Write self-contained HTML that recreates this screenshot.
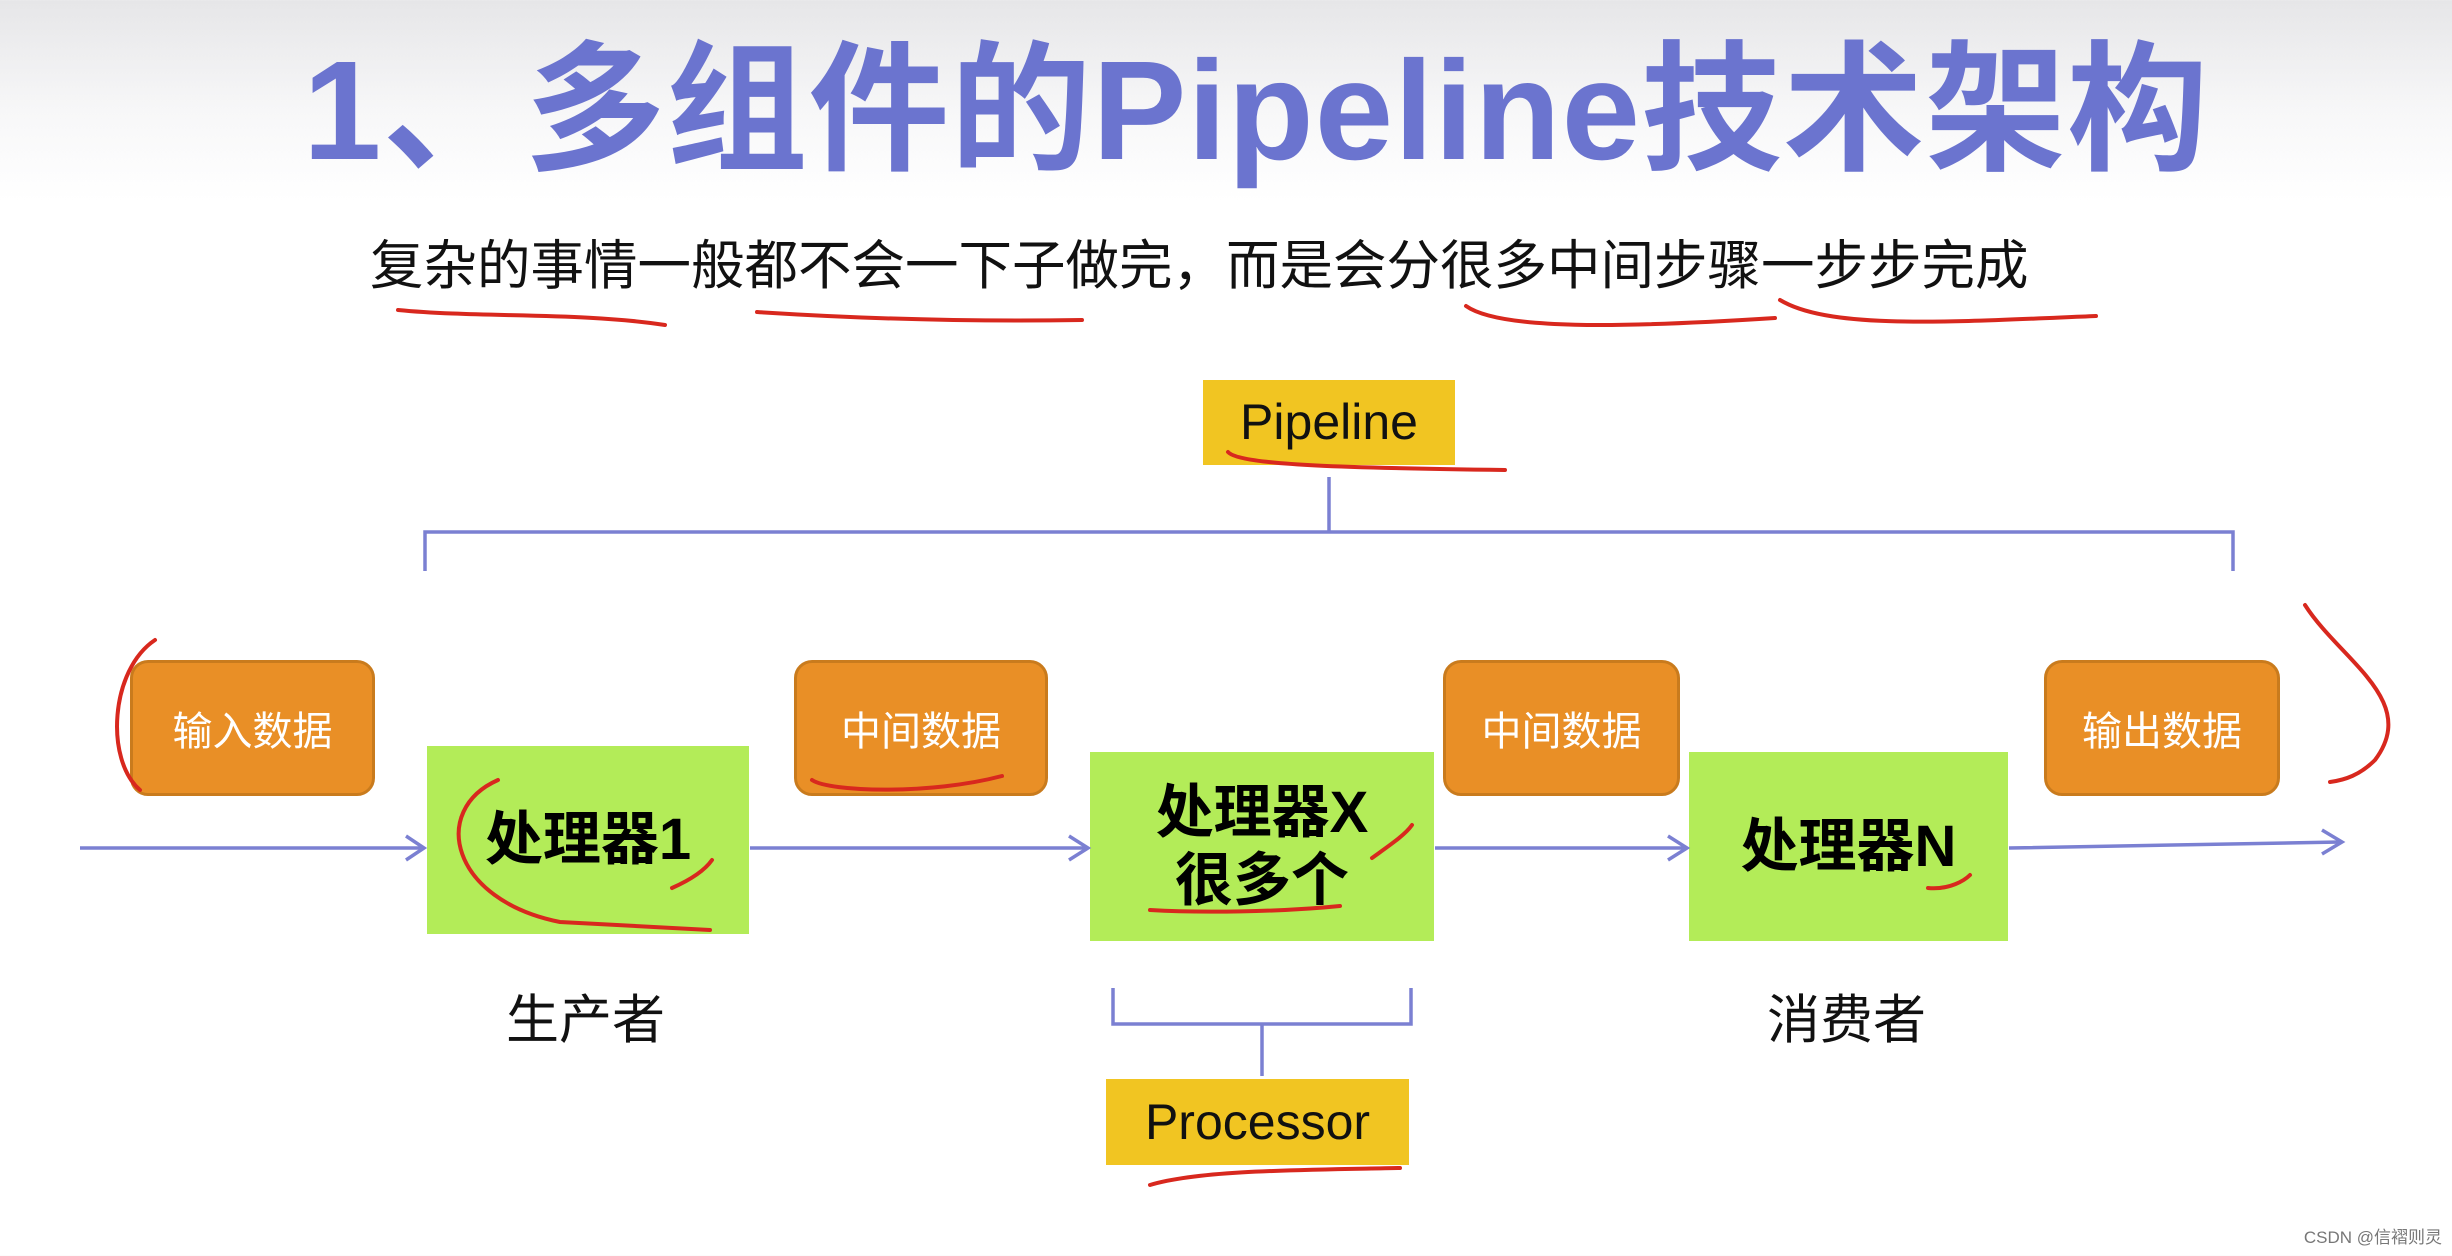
<!DOCTYPE html>
<html><head><meta charset="utf-8"><style>
html,body{margin:0;padding:0}
body{width:2452px;height:1256px;position:relative;overflow:hidden;background:linear-gradient(#e6e6e8 0px,#f7f7f8 110px,#fff 200px,#fff 100%);font-family:"Liberation Sans","Noto Sans CJK SC",sans-serif}
.a{position:absolute}
.t{left:30px;width:2452px;top:30px;text-align:center;font-size:141px;font-weight:bold;color:#6b74cf;line-height:160px;letter-spacing:1px}
.sub{left:370px;top:232px;font-size:53.5px;color:#111;white-space:nowrap;line-height:70px}
.y{background:#f1c522;color:#111;font-size:50px;text-align:center}
.o{background:#e98f26;border:3px solid #c97b1d;border-radius:18px;color:#fff;font-size:40px;display:flex;align-items:center;justify-content:center;box-sizing:border-box}
.g{background:#b3ec58;color:#000;font-weight:bold;font-size:58px;display:flex;align-items:center;justify-content:center;text-align:center;line-height:68px}
.l{font-size:53px;color:#111}
</style></head><body>
<div class="a t">1、多组件的Pipeline技术架构</div>
<div class="a sub">复杂的事情一般都不会一下子做完，而是会分很多中间步骤一步步完成</div>
<div class="a y" style="left:1203px;top:380px;width:252px;height:85px;line-height:85px">Pipeline</div>
<div class="a y" style="left:1106px;top:1079px;width:303px;height:86px;line-height:86px">Processor</div>
<div class="a o" style="left:130px;top:660px;width:245px;height:136px">输入数据</div>
<div class="a o" style="left:794px;top:660px;width:254px;height:136px">中间数据</div>
<div class="a o" style="left:1443px;top:660px;width:237px;height:136px">中间数据</div>
<div class="a o" style="left:2044px;top:660px;width:236px;height:136px">输出数据</div>
<div class="a g" style="left:427px;top:746px;width:322px;height:188px">处理器1</div>
<div class="a g" style="left:1090px;top:752px;width:344px;height:189px">处理器X<br>很多个</div>
<div class="a g" style="left:1689px;top:752px;width:319px;height:189px">处理器N</div>
<div class="a l" style="left:506px;top:978px">生产者</div>
<div class="a l" style="left:1767px;top:978px">消费者</div>
<div class="a" style="right:10px;bottom:8px;font-size:17px;color:#777">CSDN @信褶则灵</div>
<svg class="a" style="left:0;top:0" width="2452" height="1256">
<g stroke="#7b80d2" stroke-width="3.5" fill="none">
<path d="M425 571 V532 H1329 V477 M1329 532 H2233 V571"/>
<path d="M1113 988 V1024 H1411 V988 M1262 1024 V1076"/>
<path d="M80 848 H424 M750 848 H1087 M1435 848 H1686 M2009 848 L2340 842"/>
</g>
<g fill="none" stroke="#7b80d2" stroke-width="3.5">
<path d="M406 836 L424 848 L406 860"/><path d="M1069 836 L1088 848 L1069 860"/><path d="M1668 836 L1687 848 L1668 860"/><path d="M2322 830 L2342 842 L2322 854"/>
</g>
<g fill="none" stroke="#d8281e" stroke-width="4" stroke-linecap="round">
<path d="M398 310 C480 318 580 312 665 325"/>
<path d="M757 312 C850 318 960 322 1082 320"/>
<path d="M1466 306 C1500 330 1620 328 1775 318"/>
<path d="M1780 300 C1830 330 1950 322 2096 316"/>
<path d="M1228 452 C1240 466 1360 468 1505 470"/>
<path d="M155 640 C110 670 105 760 140 790"/>
<path d="M2305 605 C2340 660 2420 700 2375 760 C2360 775 2345 780 2330 782"/>
<path d="M498 780 C430 810 450 900 560 922 L710 930"/>
<path d="M672 888 C690 880 705 870 712 860"/>
<path d="M812 780 C830 792 930 795 1002 776"/>
<path d="M1372 858 C1390 845 1405 835 1412 825"/>
<path d="M1150 910 C1200 913 1280 912 1340 906"/>
<path d="M1928 888 C1950 890 1965 880 1970 875"/>
<path d="M1150 1185 C1200 1170 1300 1170 1400 1168"/>
</g>
</svg>
</body></html>
